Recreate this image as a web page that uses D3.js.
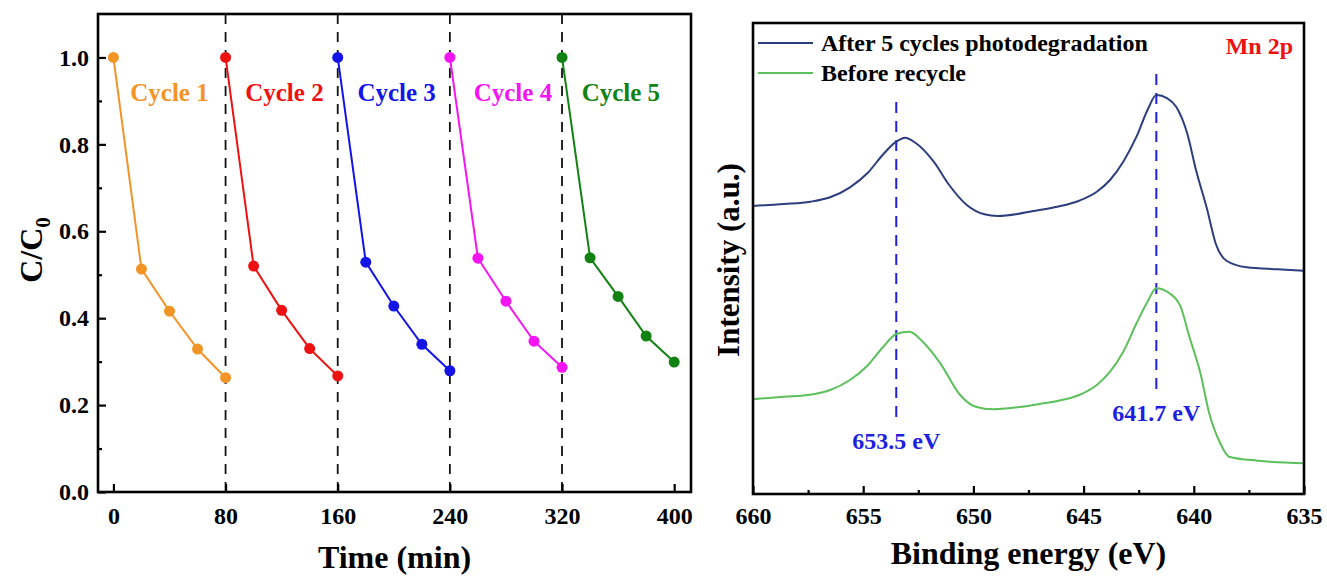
<!DOCTYPE html>
<html>
<head>
<meta charset="utf-8">
<script src="https://cdn.jsdelivr.net/npm/d3@7"></script>
<style>
  body { margin: 0; background: #fff; }
  svg text { font-family: "Liberation Serif", "Times New Roman", serif; font-weight: bold; }
</style>
</head>
<body>
<svg id="chart" width="1327" height="578"></svg>
<script>
// ---- left panel: cycling test ----
var cycleNames = ["Cycle 1", "Cycle 2", "Cycle 3", "Cycle 4", "Cycle 5"];
var cycleColors = ["#f39426", "#ee1111", "#1414e6", "#f414f4", "#128212"];
var cycleTimes = [
	[0, 20, 40, 60, 80],
	[80, 100, 120, 140, 160],
	[160, 180, 200, 220, 240],
	[240, 260, 280, 300, 320],
	[320, 340, 360, 380, 400]
];
var cycleValues = [
	[1.0, 0.513, 0.416, 0.329, 0.263],
	[1.0, 0.520, 0.418, 0.330, 0.267],
	[1.0, 0.529, 0.428, 0.340, 0.279],
	[1.0, 0.538, 0.439, 0.347, 0.287],
	[1.0, 0.539, 0.450, 0.359, 0.299]
];
var cycleBreaks = [80, 160, 240, 320];
var cycleLabelAt = [40, 122, 202, 285, 362];
var timeTicks = [0, 80, 160, 240, 320, 400];
var ratioTicks = [0, 0.2, 0.4, 0.6, 0.8, 1.0];
var ratioMinor = [0.1, 0.3, 0.5, 0.7, 0.9];

// ---- right panel: Mn 2p XPS ----
var energyAfter = [660.0, 658.6, 657.4, 656.5, 655.6, 654.8, 654.1, 653.5, 653.1, 652.6, 651.8, 651.1,
	650.3, 649.5, 648.9, 648.0, 647.4, 647.0, 646.2, 645.2, 644.4, 643.8, 643.2, 642.6, 642.1,
	641.7, 641.2, 640.8, 640.3, 639.9, 639.4, 639.0, 638.5, 637.6, 636.2, 635.0];
var intensityAfter = [2880, 2900, 2923, 2967, 3067, 3210, 3395, 3523, 3563, 3507, 3323, 3090,
	2890, 2797, 2780, 2800, 2825, 2840, 2873, 2933, 3023, 3140, 3323, 3573, 3840,
	3990, 3957, 3873, 3607, 3240, 2850, 2500, 2330, 2267, 2247, 2233];
var energyBefore = [660.0, 658.6, 657.5, 656.5, 655.6, 654.8, 654.1, 653.5, 652.9, 652.3, 651.5, 650.6,
	649.9, 649.1, 648.0, 647.4, 647.0, 646.2, 645.2, 644.4, 643.8, 643.2, 642.6, 642.1, 641.7,
	641.1, 640.6, 640.2, 639.7, 639.3, 638.8, 638.4, 637.1, 635.0];
var intensityBefore = [947, 973, 990, 1040, 1140, 1285, 1470, 1600, 1623, 1523, 1307, 990,
	873, 847, 867, 885, 900, 930, 990, 1090, 1223, 1423, 1707, 1923, 2057,
	2007, 1873, 1573, 1207, 807, 507, 373, 333, 307];
var seriesNames = ["After 5 cycles photodegradation", "Before recycle"];
var seriesColors = ["#2c3e7e", "#5cc05c"];
var peakEnergy = [653.5, 641.7];
var peakTop = [3920, 4200];
var peakBottom = [740, 1020];
var energyTicks = [660, 655, 650, 645, 640, 635];
var energyMinor = [657.5, 652.5, 647.5, 642.5, 637.5];

var svg = d3.select("#chart");

// ================= left panel =================
var L = { left: 98, right: 691, top: 14, bottom: 492 };
var x = d3.scaleLinear().domain([-11, 412]).range([L.left, L.right]);
var y = d3.scaleLinear().domain([0, 1.1]).range([L.bottom, L.top]);

var gl = svg.append("g");

gl.selectAll("line.break")
	.data(cycleBreaks)
	.enter().append("line")
		.attr("class", "break")
		.attr("x1", function(d) { return x(d); })
		.attr("x2", function(d) { return x(d); })
		.attr("y1", L.top)
		.attr("y2", L.bottom)
		.attr("stroke", "#111")
		.attr("stroke-width", 1.8)
		.attr("stroke-dasharray", "10,8");

var line = d3.line()
	.x(function(d) { return x(d[0]); })
	.y(function(d) { return y(d[1]); });

cycleValues.forEach(function(vals, i) {
	var pts = vals.map(function(v, j) { return [cycleTimes[i][j], v]; });
	gl.append("path")
		.attr("d", line(pts))
		.attr("fill", "none")
		.attr("stroke", cycleColors[i])
		.attr("stroke-width", 2);
	gl.selectAll("circle.c" + i)
		.data(pts)
		.enter().append("circle")
			.attr("class", "c" + i)
			.attr("cx", function(d) { return x(d[0]); })
			.attr("cy", function(d) { return y(d[1]); })
			.attr("r", 5.5)
			.attr("fill", cycleColors[i]);
	gl.append("text")
		.attr("x", x(cycleLabelAt[i]))
		.attr("y", y(0.9))
		.attr("text-anchor", "middle")
		.attr("font-size", 25)
		.attr("fill", cycleColors[i])
		.text(cycleNames[i]);
});

var xAxis = d3.axisBottom(x).tickValues(timeTicks).tickSizeInner(-8).tickSizeOuter(0).tickPadding(15);
gl.append("g")
	.attr("transform", "translate(0," + L.bottom + ")")
	.call(xAxis)
	.call(styleAxis);

var yAxis = d3.axisLeft(y).tickValues(ratioTicks).tickFormat(d3.format(".1f"))
	.tickSizeInner(-8).tickSizeOuter(0).tickPadding(9);
gl.append("g")
	.attr("transform", "translate(" + L.left + ",0)")
	.call(yAxis)
	.call(styleAxis);
gl.append("g")
	.attr("transform", "translate(" + L.left + ",0)")
	.call(d3.axisLeft(y).tickValues(ratioMinor).tickFormat("").tickSizeInner(-4).tickSizeOuter(0))
	.call(styleAxis);

frame(gl, L);

gl.append("text")
	.attr("x", (L.left + L.right) / 2)
	.attr("y", 568)
	.attr("text-anchor", "middle")
	.attr("font-size", 32)
	.text("Time (min)");

var yt = gl.append("text")
	.attr("transform", "translate(42,250) rotate(-90)")
	.attr("text-anchor", "middle")
	.attr("font-size", 32);
yt.append("tspan").text("C/C");
yt.append("tspan").attr("font-size", 21).attr("dy", 8).text("0");

// ================= right panel =================
var R = { left: 753, right: 1304, top: 23, bottom: 494 };
var xe = d3.scaleLinear().domain([660, 635]).range([R.left, R.right]);
var yi = d3.scaleLinear().domain([0, 4710]).range([R.bottom, R.top]);

var gr = svg.append("g");

peakEnergy.forEach(function(e, i) {
	gr.append("line")
		.attr("x1", xe(e)).attr("x2", xe(e))
		.attr("y1", yi(peakTop[i])).attr("y2", yi(peakBottom[i]))
		.attr("stroke", "#1f1fe0")
		.attr("stroke-width", 2)
		.attr("stroke-dasharray", "11,8");
	gr.append("text")
		.attr("x", xe(e))
		.attr("y", yi(peakBottom[i]) + 29)
		.attr("text-anchor", "middle")
		.attr("font-size", 24)
		.attr("fill", "#1f1fe0")
		.text(e.toFixed(1) + " eV");
});

// monotone keeps the spectra smooth without overshooting between read points
var spec = d3.line()
	.curve(d3.curveMonotoneX)
	.x(function(d) { return xe(d[0]); })
	.y(function(d) { return yi(d[1]); });

var specs = [
	energyAfter.map(function(e, j) { return [e, intensityAfter[j]]; }),
	energyBefore.map(function(e, j) { return [e, intensityBefore[j]]; })
];
specs.forEach(function(pts, i) {
	gr.append("path")
		.attr("d", spec(pts))
		.attr("fill", "none")
		.attr("stroke", seriesColors[i])
		.attr("stroke-width", 2);
});

var eAxis = d3.axisBottom(xe).tickValues(energyTicks).tickSizeInner(-8).tickSizeOuter(0).tickPadding(13);
gr.append("g")
	.attr("transform", "translate(0," + R.bottom + ")")
	.call(eAxis)
	.call(styleAxis);
gr.append("g")
	.attr("transform", "translate(0," + R.bottom + ")")
	.call(d3.axisBottom(xe).tickValues(energyMinor).tickFormat("").tickSizeInner(-4).tickSizeOuter(0))
	.call(styleAxis);

frame(gr, R);

// legend
seriesNames.forEach(function(name, i) {
	var ly = 43 + i * 30;
	gr.append("line")
		.attr("x1", 758).attr("x2", 813)
		.attr("y1", ly).attr("y2", ly)
		.attr("stroke", seriesColors[i])
		.attr("stroke-width", 2);
	gr.append("text")
		.attr("x", 821)
		.attr("y", ly + 8)
		.attr("font-size", 24)
		.text(name);
});

gr.append("text")
	.attr("x", 1293)
	.attr("y", 54)
	.attr("text-anchor", "end")
	.attr("font-size", 24)
	.attr("fill", "#ee1111")
	.text("Mn 2p");

gr.append("text")
	.attr("x", (R.left + R.right) / 2)
	.attr("y", 564)
	.attr("text-anchor", "middle")
	.attr("font-size", 32)
	.text("Binding energy (eV)");

gr.append("text")
	.attr("transform", "translate(739,260) rotate(-90)")
	.attr("text-anchor", "middle")
	.attr("font-size", 31)
	.text("Intensity (a.u.)");

function styleAxis(g) {
	g.select(".domain").remove();
	g.selectAll(".tick line").attr("stroke", "#000").attr("stroke-width", 2.2);
	g.selectAll(".tick text")
		.attr("font-size", 24)
		.attr("font-family", "Liberation Serif, Times New Roman, serif")
		.attr("font-weight", "bold")
		.attr("fill", "#000");
}

function frame(g, b) {
	g.append("rect")
		.attr("x", b.left).attr("y", b.top)
		.attr("width", b.right - b.left)
		.attr("height", b.bottom - b.top)
		.attr("fill", "none")
		.attr("stroke", "#000")
		.attr("stroke-width", 2.6);
}
</script>
</body>
</html>
